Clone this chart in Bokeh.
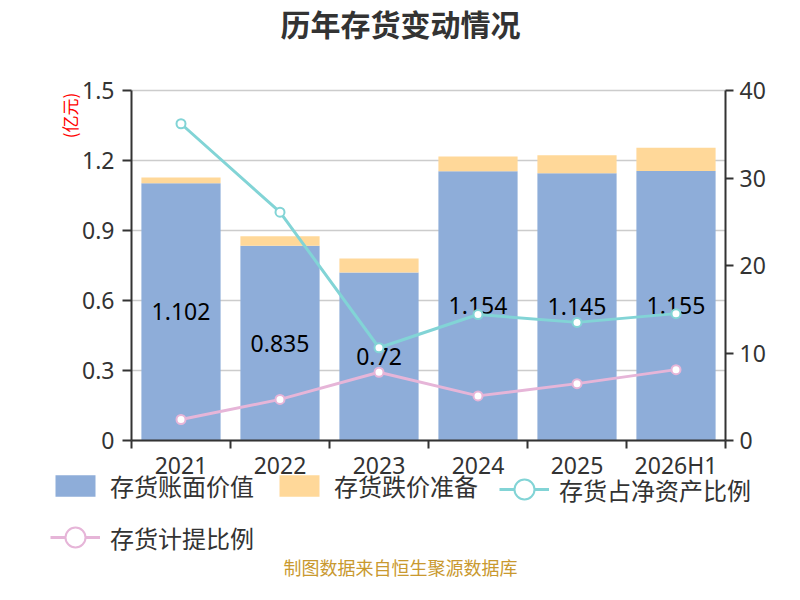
from bokeh.plotting import figure
from bokeh.models import (Range1d, LinearAxis, FixedTicker, Legend, LegendItem,
                          Label, ColumnDataSource, Grid)
from bokeh.core.properties import value
from bokeh.embed import file_html
from bokeh.resources import INLINE

# ---------------- data ----------------
categories = ["2021", "2022", "2023", "2024", "2025", "2026H1"]
book_value = [1.102, 0.835, 0.72, 1.154, 1.145, 1.155]          # 亿元
impairment_reserve = [0.025, 0.040, 0.060, 0.063, 0.078, 0.100]  # 亿元
inventory_to_net_assets = [36.2, 26.1, 10.6, 14.4, 13.5, 14.5]   # %
provision_ratio = [2.4, 4.7, 7.8, 5.1, 6.5, 8.1]                 # %
left_ticks = [0, 0.3, 0.6, 0.9, 1.2, 1.5]
right_ticks = [0, 10, 20, 30, 40]

title_text = "历年存货变动情况"
unit_text = "(亿元)"
footer_text = "制图数据来自恒生聚源数据库"
legend_labels = ["存货账面价值", "存货跌价准备", "存货占净资产比例", "存货计提比例"]

# ---------------- styles / layout ----------------
BLUE = "#8eadd9"
ORANGE = "#ffd899"
CYAN = "#82d4d6"
PINK = "#e6b5d8"
AXIS = "#333333"
CJK = "Noto Sans CJK SC"
LATIN = "Noto Sans"

W, H = 784, 584
PL, PR, PT, PB = 131, 725, 90, 440   # plot area in canvas pixels
n = len(categories)
LMAX = left_ticks[-1]
RMAX = right_ticks[-1]
xpx = (PR - PL) / n
ypx = (PB - PT) / LMAX
rpx = (PB - PT) / RMAX


def dx(px):
    return (px - PL) / xpx


def dy(py):
    return (PB - py) / ypx


xs = [i + 0.5 for i in range(n)]
stack_top = [b + r for b, r in zip(book_value, impairment_reserve)]

src = ColumnDataSource(dict(
    x=xs, book=book_value, top=stack_top,
    mid=[b / 2 for b in book_value],
    lab=[f"{b:g}" for b in book_value],
    pct=inventory_to_net_assets, prov=provision_ratio,
))

p = figure(width=W, height=H,
           x_range=Range1d(dx(0), dx(W)), y_range=Range1d(dy(H), dy(0)),
           output_backend="svg", toolbar_location=None, title=None,
           x_axis_type=None, y_axis_type=None, min_border=0)
p.outline_line_color = None
p.background_fill_color = "white"
p.border_fill_color = "white"
p.extra_y_ranges = {"pct": Range1d(-(H - PB) / rpx, PB / rpx)}

# grid
grid = Grid(dimension=1, ticker=FixedTicker(ticks=left_ticks),
            bounds=(0, LMAX), cross_bounds=(0, n),
            grid_line_color="#cccccc", grid_line_width=1.5)
p.add_layout(grid)


def style_axis(ax):
    ax.axis_line_color = AXIS
    ax.axis_line_width = 2
    ax.major_tick_line_color = AXIS
    ax.major_tick_line_width = 2
    ax.major_tick_in = 0
    ax.major_tick_out = 9
    ax.minor_tick_line_color = None
    ax.major_label_text_font = LATIN
    ax.major_label_text_font_size = "23px"
    ax.major_label_text_color = AXIS
    ax.major_label_standoff = 8


yl = LinearAxis(ticker=FixedTicker(ticks=left_ticks), major_label_overrides={0: "0"},
                bounds=(0, LMAX), fixed_location=0)
style_axis(yl)
p.add_layout(yl, "left")

yr = LinearAxis(y_range_name="pct", ticker=FixedTicker(ticks=right_ticks),
                bounds=(0, RMAX), fixed_location=n)
style_axis(yr)
yr.major_tick_out = 8
yr.major_label_standoff = 6
p.add_layout(yr, "right")

xa = LinearAxis(ticker=FixedTicker(ticks=xs, minor_ticks=list(range(n + 1))),
                major_label_overrides={x: c for x, c in zip(xs, categories)},
                bounds=(0, n), fixed_location=0)
style_axis(xa)
xa.major_tick_line_color = None
xa.major_tick_out = 8
xa.minor_tick_line_color = AXIS
xa.minor_tick_line_width = 2
xa.minor_tick_in = 0
xa.minor_tick_out = 8
xa.major_label_standoff = 0
p.add_layout(xa, "below")

# bars
bar_blue = p.vbar(x="x", width=0.8, bottom=0, top="book", source=src,
                  fill_color=BLUE, line_color=None)
bar_orange = p.vbar(x="x", width=0.8, bottom="book", top="top", source=src,
                    fill_color=ORANGE, line_color=None)

# bar value labels
p.text(x="x", y="mid", text="lab", source=src, text_align="center",
       text_baseline="middle", text_font=value(LATIN), text_font_size="23px",
       text_color="black")

# lines
line_c = p.line(x="x", y="pct", source=src, y_range_name="pct",
                line_color=CYAN, line_width=3)
sc_c = p.scatter(x="x", y="pct", source=src, y_range_name="pct", size=9,
                 fill_color="white", line_color=CYAN, line_width=2)
line_p = p.line(x="x", y="prov", source=src, y_range_name="pct",
                line_color=PINK, line_width=3)
sc_p = p.scatter(x="x", y="prov", source=src, y_range_name="pct", size=9,
                 fill_color="white", line_color=PINK, line_width=2)


def make_legend(items, left, bottom, gh):
    lg = Legend(items=items, location=(left, H - bottom), orientation="horizontal",
                glyph_width=50, glyph_height=gh, label_height=27,
                label_standoff=10, spacing=20, padding=0, margin=0,
                border_line_color=None, background_fill_alpha=0,
                label_text_font=CJK, label_text_font_size="24px",
                label_text_color=AXIS)
    p.add_layout(lg)


make_legend([LegendItem(label=legend_labels[0], renderers=[bar_blue]),
             LegendItem(label=legend_labels[1], renderers=[bar_orange])],
            50, 503, 27)
make_legend([LegendItem(label=legend_labels[2], renderers=[line_c, sc_c])],
            499, 517, 56)
make_legend([LegendItem(label=legend_labels[3], renderers=[line_p, sc_p])],
            50, 565, 56)

# title, unit label, footer
p.add_layout(Label(x=dx(400), y=dy(22), text=title_text, text_align="center",
                   text_baseline="middle", text_font=CJK, text_font_style="bold",
                   text_font_size="30px", text_color=AXIS))
p.add_layout(Label(x=dx(69), y=dy(115), text=unit_text, angle=1.5708,
                   text_align="center", text_baseline="middle", text_font=CJK,
                   text_font_size="17px", text_color="#ff0000"))
p.add_layout(Label(x=dx(400), y=dy(566), text=footer_text, text_align="center",
                   text_baseline="middle", text_font=CJK,
                   text_font_size="18px", text_color="#c9992f"))

open("out.html", "w").write(file_html(p, INLINE))
